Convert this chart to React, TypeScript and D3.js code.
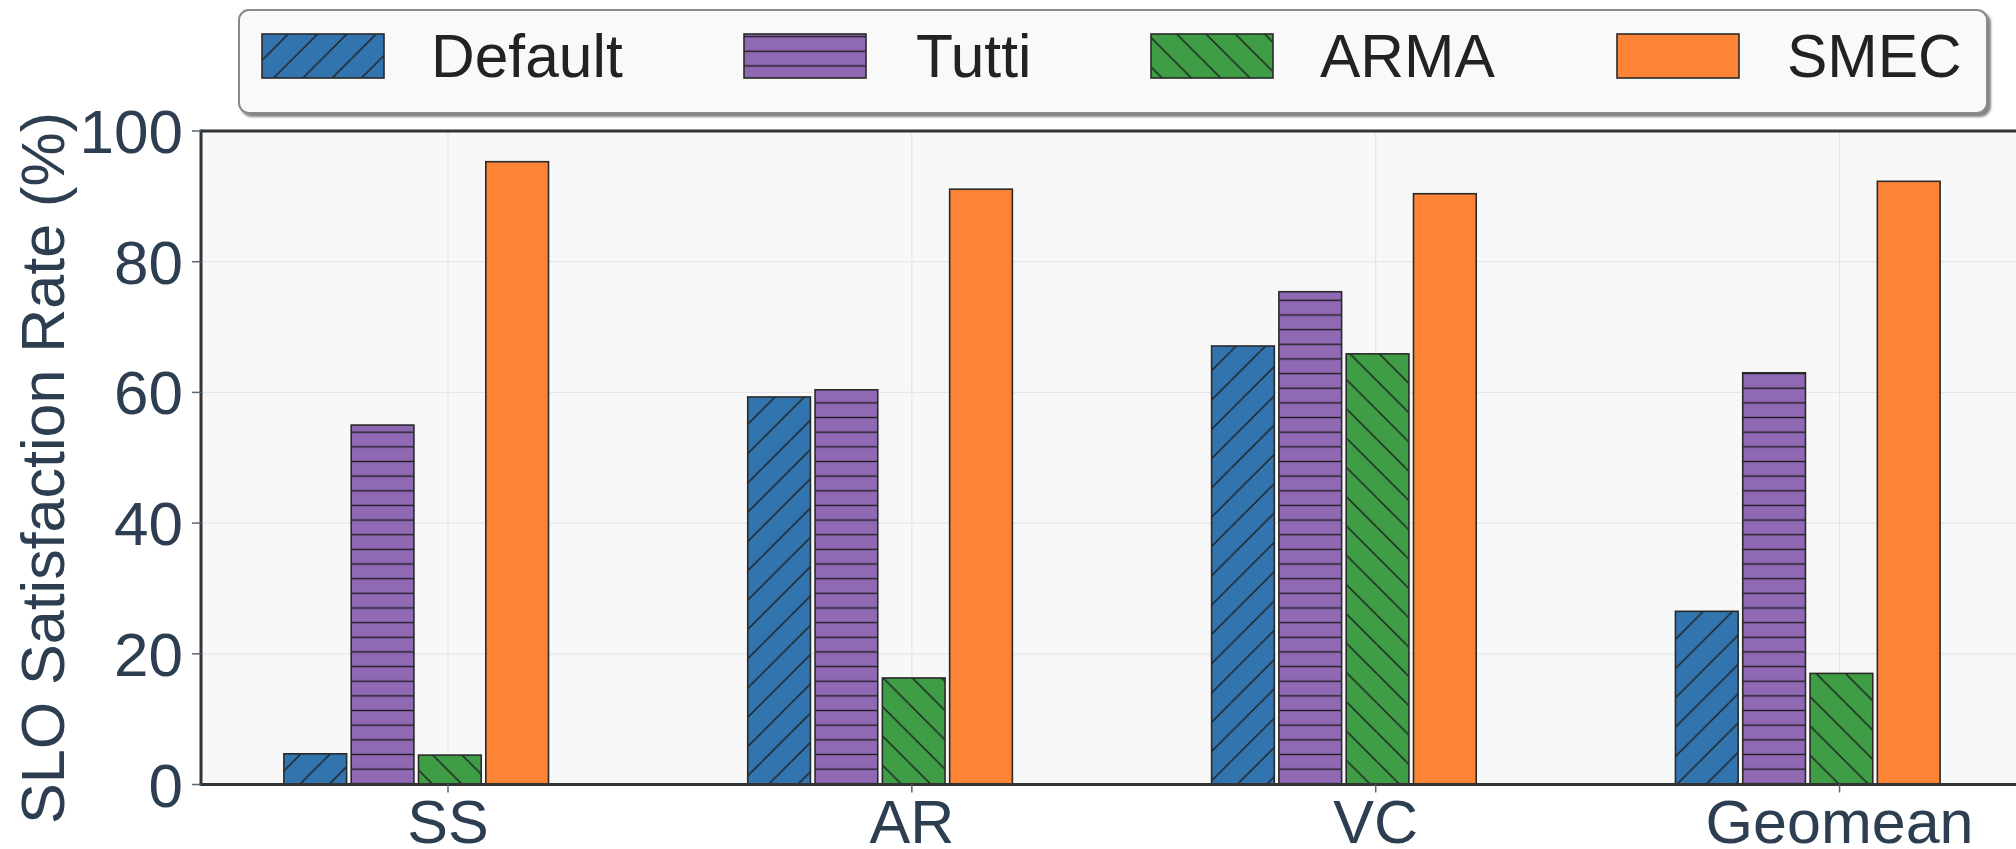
import React from "react";
import * as d3 from "d3";

const categories = ["SS", "AR", "VC", "Geomean"];
const seriesNames = ["Default", "Tutti", "ARMA", "SMEC"];
const defaultValues = [4.7, 59.3, 67.1, 26.5];
const tuttiValues = [55.0, 60.4, 75.4, 63.0];
const armaValues = [4.5, 16.3, 65.9, 17.0];
const smecValues = [95.3, 91.1, 90.4, 92.3];
const yTicks = [0, 20, 40, 60, 80, 100];

const seriesValues = [defaultValues, tuttiValues, armaValues, smecValues];
const colors = ["#3274ae", "#9069b5", "#3e9d45", "#fd8434"];
const hatches = ["fwd", "horiz", "back", "none"];

const W = 2016;
const H = 849;
const FONT = "'Liberation Sans', Arial, sans-serif";
const TICK_COLOR = "#2c3e50";

// layout
const plotLeft = 201;
const plotTop = 131;
const plotBottom = 784.5;
const groupSpacing = 463.85;
const firstCenter = 448;
const barPitch = 0.1451;
const barWidth = 0.1352;
const legendSwatchX = [262, 744, 1151, 1617];
const legendTextX = [431, 916, 1320, 1787];

export default function App() {
  const x = d3
    .scaleLinear()
    .domain([0, 1])
    .range([firstCenter, firstCenter + groupSpacing]);
  const y = d3.scaleLinear().domain([0, 100]).range([plotBottom, plotTop]);
  const plotRight = x(4.2);
  const cell = 29.3;

  const bars: any[] = [];
  categories.forEach((c, ci) => {
    seriesValues.forEach((vals, si) => {
      const center = ci + (si - 2) * barPitch + 0.004;
      const x0 = x(center - barWidth / 2);
      const x1 = x(center + barWidth / 2);
      const v = vals[ci];
      bars.push({ key: `${c}-${si}`, x0, x1, yTop: y(v), si });
    });
  });

  return (
    <svg
      width={W}
      height={H}
      style={{ position: "absolute", left: 0, top: 0, display: "block", background: "#fff" }}
    >
      <defs>
        <pattern id="fwd" patternUnits="userSpaceOnUse" width={cell} height={cell}>
          <line x1={0} y1={cell} x2={cell} y2={0} stroke="#1e1e1e" strokeWidth={1.4} />
          <line x1={-cell} y1={cell} x2={cell * 0} y2={0} stroke="#1e1e1e" strokeWidth={1.4} />
          <line x1={cell} y1={cell} x2={cell * 2} y2={0} stroke="#1e1e1e" strokeWidth={1.4} />
        </pattern>
        <pattern id="back" patternUnits="userSpaceOnUse" width={cell} height={cell}>
          <line x1={0} y1={0} x2={cell} y2={cell} stroke="#1e1e1e" strokeWidth={1.4} />
          <line x1={-cell} y1={0} x2={0} y2={cell} stroke="#1e1e1e" strokeWidth={1.4} />
          <line x1={cell} y1={0} x2={cell * 2} y2={cell} stroke="#1e1e1e" strokeWidth={1.4} />
        </pattern>
        <pattern id="horiz" patternUnits="userSpaceOnUse" width={cell} height={cell / 2}>
          <line x1={0} y1={cell / 4} x2={cell} y2={cell / 4} stroke="#1e1e1e" strokeWidth={1.4} />
        </pattern>
        <filter id="shadow" x="-5%" y="-20%" width="110%" height="150%">
          <feDropShadow dx={3} dy={3} stdDeviation={0.8} floodColor="#777" floodOpacity={0.9} />
        </filter>
        <clipPath id="plotClip">
          <rect x={plotLeft} y={plotTop} width={plotRight - plotLeft} height={plotBottom - plotTop} />
        </clipPath>
      </defs>

      {/* plot background */}
      <rect x={plotLeft} y={plotTop} width={plotRight - plotLeft} height={plotBottom - plotTop} fill="#f8f8f8" />

      {/* gridlines */}
      {yTicks.map((t) => (
        <line key={`gy${t}`} x1={plotLeft} x2={plotRight} y1={y(t)} y2={y(t)} stroke="#e6e6e6" strokeWidth={1.2} />
      ))}
      {categories.map((c, i) => (
        <line key={`gx${c}`} x1={x(i)} x2={x(i)} y1={plotTop} y2={plotBottom} stroke="#e6e6e6" strokeWidth={1.2} />
      ))}

      {/* bars */}
      <g clipPath="url(#plotClip)">
        {bars.map((b) => (
          <g key={b.key}>
            <rect x={b.x0} y={b.yTop} width={b.x1 - b.x0} height={plotBottom - b.yTop} fill={colors[b.si]} />
            {hatches[b.si] !== "none" && (
              <rect x={b.x0} y={b.yTop} width={b.x1 - b.x0} height={plotBottom - b.yTop} fill={`url(#${hatches[b.si]})`} />
            )}
            <rect
              x={b.x0}
              y={b.yTop}
              width={b.x1 - b.x0}
              height={plotBottom - b.yTop}
              fill="none"
              stroke="#2a2a2a"
              strokeWidth={1.6}
            />
          </g>
        ))}
      </g>

      {/* frame */}
      <line x1={plotLeft} x2={plotRight} y1={plotTop} y2={plotTop} stroke="#333" strokeWidth={3} />
      <line x1={plotLeft} x2={plotRight} y1={plotBottom} y2={plotBottom} stroke="#333" strokeWidth={3} />
      <line x1={plotLeft} x2={plotLeft} y1={plotTop - 1.5} y2={plotBottom + 1.5} stroke="#333" strokeWidth={3} />

      {/* y ticks */}
      {yTicks.map((t) => (
        <g key={`yt${t}`}>
          <line x1={plotLeft - 9} x2={plotLeft} y1={y(t)} y2={y(t)} stroke="#556677" strokeWidth={1.5} />
          <text
            x={183}
            y={y(t) + 22}
            textAnchor="end"
            fontFamily={FONT}
            fontSize={62}
            fill={TICK_COLOR}
          >
            {t}
          </text>
        </g>
      ))}

      {/* x ticks */}
      {categories.map((c, i) => (
        <g key={`xt${c}`}>
          <line x1={x(i)} x2={x(i)} y1={plotBottom} y2={plotBottom + 8} stroke="#556677" strokeWidth={1.5} />
          <text x={x(i)} y={843} textAnchor="middle" fontFamily={FONT} fontSize={61} fill={TICK_COLOR}>
            {c}
          </text>
        </g>
      ))}

      {/* y title */}
      <text
        transform={`translate(64, 468) rotate(-90)`}
        textAnchor="middle"
        fontFamily={FONT}
        fontSize={61}
        fill={TICK_COLOR}
      >
        SLO Satisfaction Rate (%)
      </text>

      {/* legend */}
      <rect
        x={239}
        y={10}
        width={1748}
        height={103}
        rx={10}
        ry={10}
        fill="#f9f9f9"
        stroke="#8a8a8a"
        strokeWidth={2}
        filter="url(#shadow)"
      />
      {seriesNames.map((name, i) => (
        <g key={`lg${name}`}>
          <rect x={legendSwatchX[i]} y={34} width={122} height={44} fill={colors[i]} />
          {hatches[i] !== "none" && (
            <rect x={legendSwatchX[i]} y={34} width={122} height={44} fill={`url(#${hatches[i]})`} />
          )}
          <rect x={legendSwatchX[i]} y={34} width={122} height={44} fill="none" stroke="#2a2a2a" strokeWidth={1.6} />
          <text x={legendTextX[i]} y={77} fontFamily={FONT} fontSize={60.5} fill="#222">
            {name}
          </text>
        </g>
      ))}
    </svg>
  );
}
